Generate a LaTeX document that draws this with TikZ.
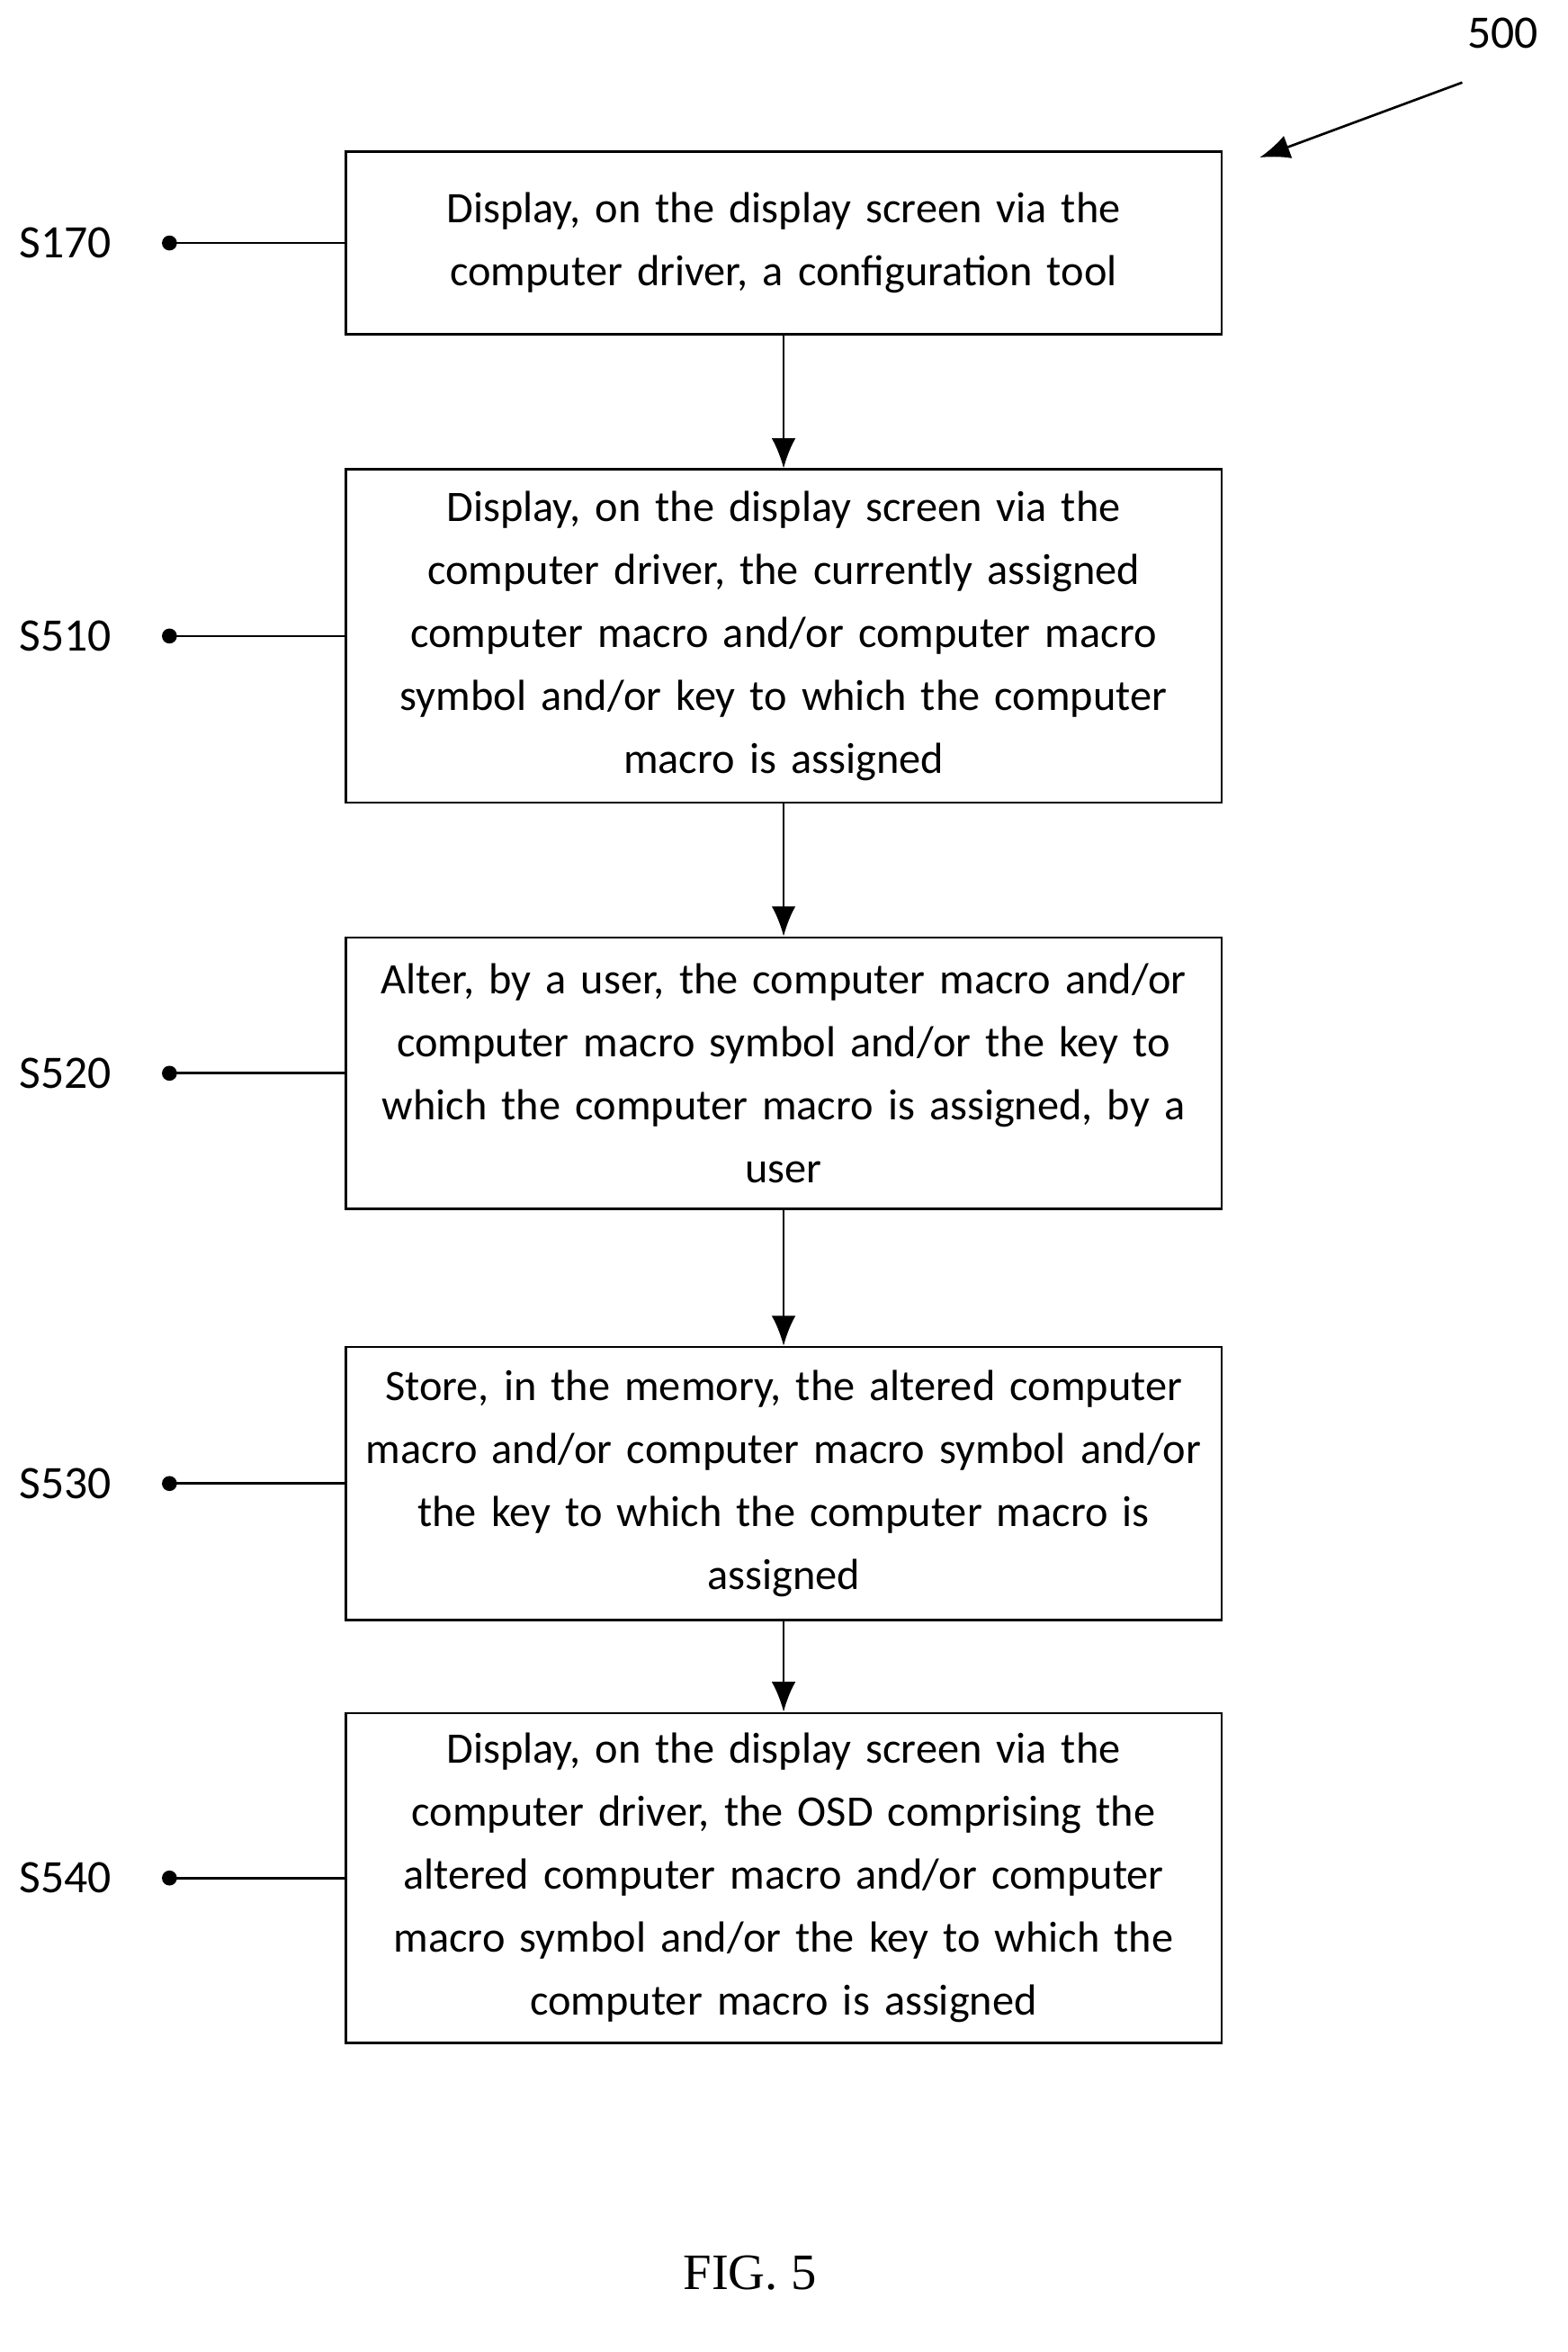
\documentclass[tikz,border=0pt]{standalone}
\usepackage{fontspec}
\setmainfont{Carlito}
\newfontfamily\figfont{Liberation Serif}
\begin{document}
\begin{tikzpicture}[x=0.5pt,y=-0.5pt,
  box/.style={draw,line width=0.8pt,minimum width=292pt,align=center,font=\fontsize{14.5}{21}\selectfont,inner sep=0pt,text width=290pt},
  lab/.style={font=\fontsize{15.5}{17}\selectfont,anchor=west},
  arr/.style={-{Latex[length=10pt,width=8pt]},line width=0.8pt}]
\usetikzlibrary{arrows.meta}
\useasboundingbox (0,0) rectangle (1045,1568);
\node[box,minimum height=61pt] (b1) at (522.5,162) {Display, on the display screen via the\\computer driver, a configuration tool};
\node[box,minimum height=111pt] (b2) at (522.5,424) {Display, on the display screen via the\\computer driver, the currently assigned\\computer macro and/or computer macro\\symbol and/or key to which the computer\\macro is assigned};
\node[box,minimum height=90.5pt] (b3) at (522.5,715.5) {Alter, by a user, the computer macro and/or\\computer macro symbol and/or the key to\\which the computer macro is assigned, by a\\user};
\node[box,minimum height=91pt] (b4) at (522.5,989) {Store, in the memory, the altered computer\\macro and/or computer macro symbol and/or\\the key to which the computer macro is\\assigned};
\node[box,minimum height=110pt] (b5) at (522.5,1252) {Display, on the display screen via the\\computer driver, the OSD comprising the\\altered computer macro and/or computer\\macro symbol and/or the key to which the\\computer macro is assigned};
\foreach \a/\b in {b1/b2,b2/b3,b3/b4,b4/b5} \draw[arr] (\a.south) -- (\b.north);
\foreach \n/\t/\y in {1/S170/162,2/S510/424,3/S520/715.5,4/S530/989,5/S540/1252}{
  \node[lab] (l\n) at (6,\y) {\t};
  \fill (113,\y) circle (2.5pt) coordinate (d\n);
  \draw[line width=0.8pt] (d\n) -- (b\n.west);
}
\node[lab,anchor=center] (n500) at (1002,22) {500};
\coordinate (a500) at (975,55);
\draw[arr] (a500) -- (840,105);
\node[font=\figfont\fontsize{17}{20}\selectfont] (fig) at (500,1515) {FIG. 5};
\end{tikzpicture}
\end{document}
